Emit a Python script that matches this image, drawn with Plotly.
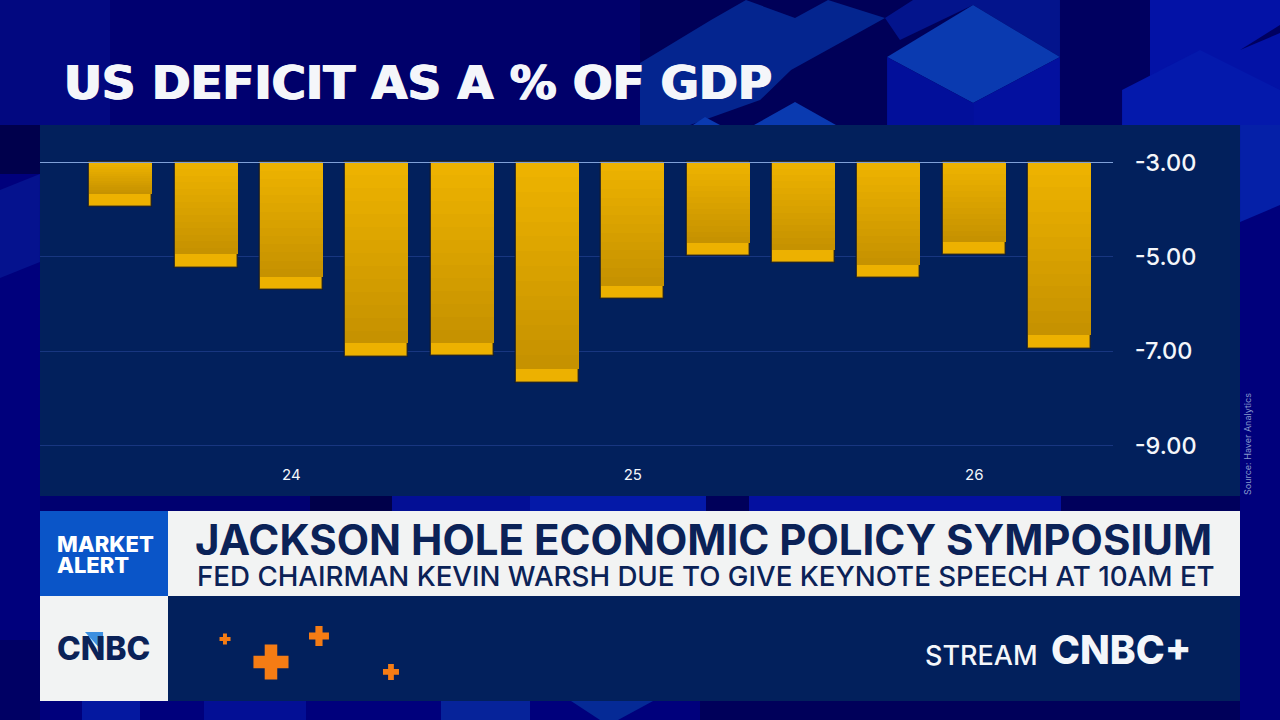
import plotly.graph_objects as go

# US deficit as % of GDP
quarters = ["23Q3", "23Q4", "24Q1", "24Q2", "24Q3", "24Q4", "25Q1", "25Q2", "25Q3", "25Q4", "26Q1", "26Q2"]
deficit = [-3.95, -5.23, -5.71, -7.12, -7.10, -7.67, -5.89, -4.99, -5.14, -5.46, -4.97, -6.95]
year_ticks = ["24Q1", "25Q1", "26Q1"]
year_labels = ["24", "25", "26"]
y_ticks = [-3, -5, -7, -9]
y_labels = ["-3.00", "-5.00", "-7.00", "-9.00"]

W, H = 1280, 720
FONT = "Inter"
WIDE_FONT = "DejaVu Sans"
NAVY = "#02205c"
INK = "#0b2257"
PALE = "#f4f6fa"

# bar look
TOP_VALUE = -3.0
CAP = 0.28          # lighter band at the foot of every bar, in axis units
SLICES = 14         # bars can't take a gradient so stack thin slices
TOP_RGB = (237, 178, 0)
BOTTOM_RGB = (198, 146, 0)


def sx(px):
    return px / W


def sy(py):
    return 1 - py / H


def poly(points, color, layer="below"):
    path = "M " + " L ".join(f"{sx(x):.4f} {sy(y):.4f}" for x, y in points) + " Z"
    return dict(type="path", xref="paper", yref="paper", path=path, fillcolor=color,
                line=dict(width=0), layer=layer)


def box(x0, y0, x1, y1, color):
    return dict(type="rect", xref="paper", yref="paper", x0=sx(x0), x1=sx(x1), y0=sy(y0), y1=sy(y1),
                fillcolor=color, line=dict(width=0), layer="below")


def cross(cx, cy, r, color="#f57c14"):
    t = r * 0.36
    return poly([(cx - t, cy - r), (cx + t, cy - r), (cx + t, cy - t), (cx + r, cy - t), (cx + r, cy + t),
                 (cx + t, cy + t), (cx + t, cy + r), (cx - t, cy + r), (cx - t, cy + t), (cx - r, cy + t),
                 (cx - r, cy - t), (cx - t, cy - t)], color)


def label(text, x, y, size, color, weight=400, anchor="left", angle=0, family=FONT, shadow=None):
    font = dict(family=family, size=size, color=color, weight=weight)
    if shadow:
        font["shadow"] = shadow
    return dict(text=text, xref="paper", yref="paper", x=sx(x), y=sy(y), xanchor=anchor, yanchor="middle",
                showarrow=False, textangle=angle, align="left", font=font)


fig = go.Figure()

# solid bar first, this also gives the light foot band and the dark edge
fig.add_trace(go.Bar(x=quarters, y=[v - TOP_VALUE for v in deficit], base=TOP_VALUE, width=0.738,
                     marker=dict(color="#edb100", line=dict(width=1.5, color="rgba(20,24,40,0.75)")),
                     hoverinfo="skip"))

# gradient slices over the body of the bar
for k in range(SLICES):
    t = k / (SLICES - 1)
    rgb = [round(a + (b - a) * t) for a, b in zip(TOP_RGB, BOTTOM_RGB)]
    body = [v - TOP_VALUE + CAP for v in deficit]
    fig.add_trace(go.Bar(x=quarters, y=[b / SLICES for b in body],
                         base=[TOP_VALUE + b * k / SLICES for b in body], width=0.738,
                         marker=dict(color=f"rgb({rgb[0]},{rgb[1]},{rgb[2]})", line=dict(width=0)),
                         hoverinfo="skip"))

shapes = [
    # background blocks
    box(0, 0, 1280, 720, "#00007c"),
    box(0, 0, 640, 125, "#000070"),
    box(0, 0, 110, 125, "#020880"),
    box(0, 125, 40, 174, "#00004c"),
    poly([(0, 190), (40, 174), (40, 262), (0, 278)], "#05128e"),
    box(0, 640, 40, 720, "#000064"),
    box(250, 0, 640, 125, "#00006a"),
    box(640, 0, 1060, 125, "#000058"),
    poly([(640, 63), (711, 20), (746, 0), (795, 18), (828, 0), (885, 18), (858, 33), (791, 70), (760, 100),
          (690, 125), (640, 125)], "#04258f"),
    poly([(913, 0), (1060, 0), (1060, 57), (973, 5), (900, 40), (885, 18)], "#03148c"),
    poly([(795, 102), (836, 125), (754, 125)], "#0a3ab0"),
    poly([(705, 117), (720, 125), (693, 125)], "#0a3ab0"),
    poly([(973, 5), (1060, 57), (973, 103), (887, 57)], "#0a3ab0"),
    poly([(887, 57), (973, 103), (973, 125), (887, 125)], "#020f9a"),
    poly([(1060, 57), (973, 103), (973, 125), (1060, 125)], "#03109f"),
    box(1060, 0, 1150, 125, "#000060"),
    box(1150, 0, 1280, 125, "#0312a6"),
    poly([(1280, 25), (1240, 50), (1280, 33)], "#000060"),
    poly([(1122, 125), (1122, 90), (1200, 50), (1280, 90), (1280, 125)], "#0419ac"),
    poly([(1240, 125), (1280, 125), (1280, 205), (1240, 222)], "#0520a8"),
    # strip between chart and headline
    box(40, 496, 310, 511, "#000070"),
    box(310, 496, 392, 511, "#00004a"),
    box(392, 496, 530, 511, "#030f95"),
    box(530, 496, 706, 511, "#0419a8"),
    box(706, 496, 749, 511, "#00005a"),
    box(749, 496, 1061, 511, "#0410a0"),
    box(1061, 496, 1240, 511, "#00005c"),
    # strip under the ticker
    box(82, 701, 140, 720, "#0418a0"),
    box(204, 701, 306, 720, "#030f95"),
    box(441, 701, 530, 720, "#06239a"),
    poly([(571, 701), (653, 701), (618, 720), (600, 720)], "#052a96"),
    box(700, 701, 1240, 720, "#00005a"),
    # chart panel and ticker panels
    box(40, 125, 1240, 496, NAVY),
    box(40, 511, 168, 596, "#0a55c8"),
    box(168, 511, 1240, 596, "#f2f3f3"),
    box(40, 596, 168, 701, "#f2f3f3"),
    box(168, 596, 1240, 701, NAVY),
    cross(225, 639, 5.5),
    cross(271, 662, 17.5),
    cross(319, 636, 10),
    cross(391, 672, 8),
]

annotations = [
    label("US DEFICIT AS A % OF GDP", 62, 83, 46.7, PALE, 700, family=WIDE_FONT,
          shadow=f"0.9px 0 0 {PALE}, -0.9px 0 0 {PALE}"),
    label("Source: Haver Analytics", 1247, 444, 9, "#8496cc", angle=-90, anchor="center"),
    label("MARKET", 55, 544, 22, "#ffffff", 800),
    label("ALERT", 55, 565, 22, "#ffffff", 800),
    label("JACKSON HOLE ECONOMIC POLICY SYMPOSIUM", 193, 539, 42, INK, 700),
    label("FED CHAIRMAN KEVIN WARSH DUE TO GIVE KEYNOTE SPEECH AT 10AM ET", 195, 576, 27.7, INK, 500),
    label("CNBC", 55, 648, 32, INK, 800),
    label("STREAM", 923, 655, 27, PALE, 500),
    label("CNBC+", 1049, 649, 39, PALE, 800),
]
shapes.append(poly([(85, 632), (103, 632), (103, 652)], "#3c8fe0", layer="above"))

fig.update_layout(
    width=W, height=H, barmode="overlay", showlegend=False, bargap=0,
    margin=dict(l=0, r=0, t=0, b=0),
    paper_bgcolor="#00007c", plot_bgcolor="rgba(0,0,0,0)",
    font=dict(family=FONT, color=PALE),
    shapes=shapes, annotations=annotations,
    xaxis=dict(domain=[sx(40), sx(1113)], type="category", categoryorder="array", categoryarray=quarters,
               range=[-0.945, 11.625], tickmode="array", tickvals=year_ticks, ticktext=year_labels,
               ticks="outside", ticklen=3, tickcolor="rgba(0,0,0,0)", showgrid=False, zeroline=False,
               showline=False, tickfont=dict(size=15, color=PALE)),
    yaxis=dict(domain=[sy(458), sy(140)], range=[-9.27, -2.523], side="right", tickmode="array",
               tickvals=y_ticks, ticktext=y_labels, ticks="outside", ticklen=16, tickcolor="rgba(0,0,0,0)",
               showgrid=True, gridcolor="#183680", gridwidth=1, zeroline=False, showline=False,
               tickfont=dict(size=23.5, color=PALE, weight=500)),
)

# the -3 line is brighter than the rest of the grid
fig.add_hline(y=-3, line=dict(color="#7fa0d8", width=1.2), layer="above")

# page margin would push the 1280x720 figure out of the window
fig.write_html("out.html", config=dict(displayModeBar=False),
               post_script="document.body.style.margin='0';")
